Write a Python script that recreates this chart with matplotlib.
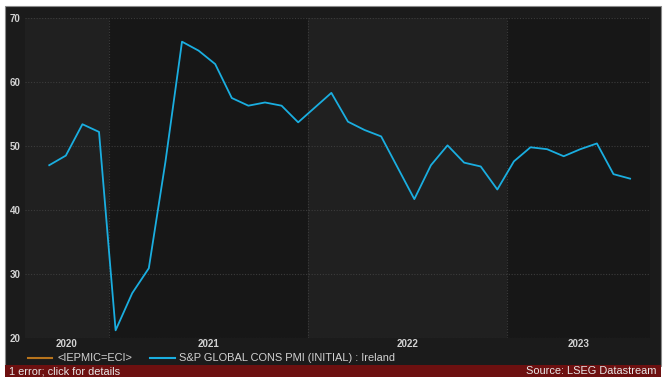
import numpy as np
import matplotlib
matplotlib.use("Agg")
import matplotlib.pyplot as plt
from matplotlib.patches import Rectangle
from matplotlib.lines import Line2D

plt.rcParams['font.family'] = ['Liberation Sans', 'DejaVu Sans']

# monthly values, S&P Global construction PMI (initial), Ireland
pmi = [47.0, 48.5, 53.4, 52.2, 21.2, 27.0, 30.9, 47.5, 66.3, 64.9,
       62.8, 57.5, 56.3, 56.8, 56.3, 53.7, 56.0, 58.3, 53.8, 52.5,
       51.5, 46.6, 41.7, 47.0, 50.1, 47.4, 46.8, 43.2, 47.6, 49.8,
       49.5, 48.4, 49.5, 50.4, 45.6, 44.9]
months = np.arange(len(pmi))

# year band edges (in month index units) and their labels
year_edges = [3.6, 15.6, 27.6]
year_labels = ['2020', '2021', '2022', '2023']
x_range = (-1.46, 36.2)

W, H = 665, 382
fig = plt.figure(figsize=(W / 100, H / 100), dpi=100)
fig.patch.set_facecolor('white')

# dark panel + red status bar
fig.patches.append(Rectangle((5 / W, 1 - 366 / H), 656 / W, 360 / H,
                             transform=fig.transFigure, facecolor='#1b1b1b',
                             edgecolor='#8a8a8a', linewidth=0.8, zorder=-5))
fig.patches.append(Rectangle((5 / W, 1 - 376.5 / H), 656 / W, 11.5 / H,
                             transform=fig.transFigure, facecolor='#6d1010',
                             edgecolor='none', zorder=-4))

ax = fig.add_axes([25 / W, 1 - 338 / H, 625 / W, 320 / H])
ax.set_facecolor('#171717')
for s in ax.spines.values():
    s.set_visible(False)

bounds = [x_range[0]] + year_edges + [x_range[1]]
for i in range(len(bounds) - 1):
    if i % 2 == 0:
        ax.axvspan(bounds[i], bounds[i + 1], color='#202020', lw=0, zorder=0)
for e in year_edges:
    ax.axvline(e, color='#3c3c3c', lw=0.8, ls=(0, (1, 1.5)), zorder=1)

ax.plot(months, pmi, color='#1aaee0', lw=1.3, zorder=3)

ax.set_xlim(*x_range)
ax.set_ylim(20, 70)
ax.set_yticks([20, 30, 40, 50, 60, 70])
ax.grid(axis='y', color='#3c3c3c', lw=0.8, ls=(0, (1, 1.5)))
centers = [(bounds[i] + bounds[i + 1]) / 2 for i in range(len(bounds) - 1)]
ax.set_xticks(centers)
ax.set_xticklabels(year_labels)
ax.tick_params(length=0, colors='#d2d2d2', labelsize=7, pad=3)
ax.tick_params(axis='x', pad=1)
for lab in ax.get_xticklabels() + ax.get_yticklabels():
    lab.set_fontweight('bold')

# legend
fig.lines.append(Line2D([28 / W, 52 / W], [1 - 358 / H] * 2, color='#b8741c',
                        lw=1.5, transform=fig.transFigure))
fig.text(57 / W, 1 - 358 / H, '<IEPMIC=ECI>', color='#d2d2d2', fontsize=7.9,
         va='center')
fig.lines.append(Line2D([150 / W, 175 / W], [1 - 358 / H] * 2, color='#1aaee0',
                        lw=1.5, transform=fig.transFigure))
fig.text(179 / W, 1 - 358 / H, 'S&P GLOBAL CONS PMI (INITIAL) : Ireland',
         color='#d2d2d2', fontsize=7.9, va='center')

fig.text(9 / W, 1 - 371 / H, '1 error; click for details', color='#e8e8e8',
         fontsize=7.9, va='center')
fig.text(657 / W, 1 - 371 / H, 'Source: LSEG Datastream', color='#e8e8e8',
         fontsize=7.9, va='center', ha='right')

fig.savefig('out.png', dpi=100, facecolor='white')
